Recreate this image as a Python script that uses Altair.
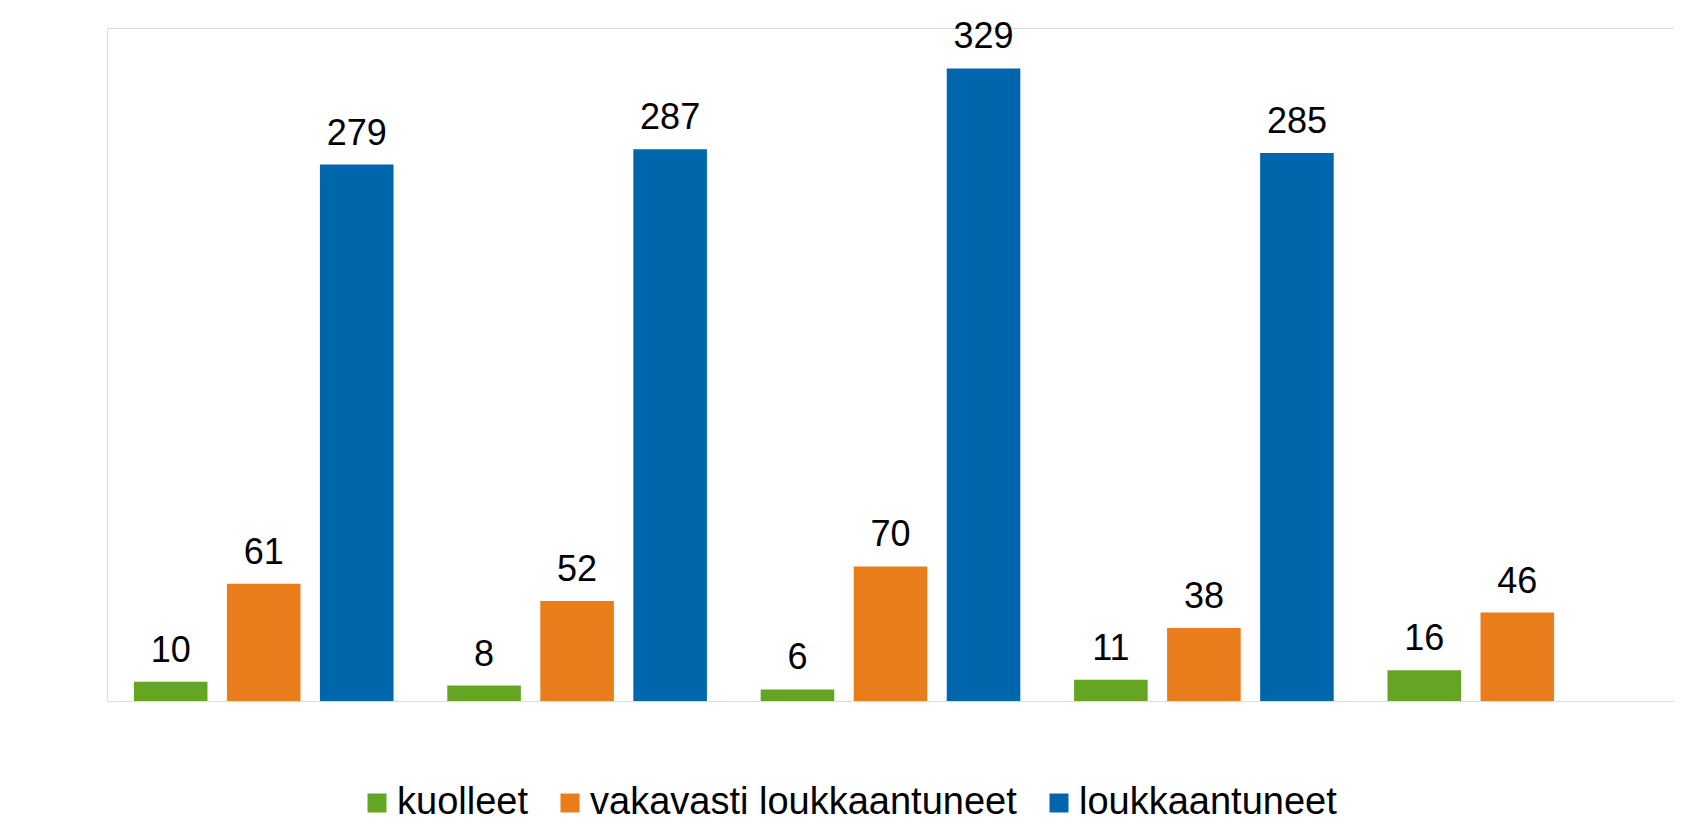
import altair as alt
import pandas as pd

years = ["2009", "2010", "2011", "2012", "2013"]
series = ["kuolleet", "vakavasti loukkaantuneet", "loukkaantuneet"]
kuolleet = [10, 8, 6, 11, 16]
vakavasti = [61, 52, 70, 38, 46]
loukkaantuneet = [279, 287, 329, 285, None]
colors = ["#64a623", "#ea7d1b", "#0066ac"]
y_ticks = [0, 50, 100, 150, 200, 250, 300, 350]

rows = []
for i, yr in enumerate(years):
    for s, vals in zip(series, [kuolleet, vakavasti, loukkaantuneet]):
        if vals[i] is not None:
            rows.append({"year": yr, "series": s, "value": vals[i]})
df = pd.DataFrame(rows)

FONT = "Liberation Sans"

x_scale = alt.Scale(domain=years, paddingInner=0, paddingOuter=0)
xoff_scale = alt.Scale(domain=series, paddingInner=0.209, paddingOuter=0.289)
y_scale = alt.Scale(domain=[0, 350], nice=False)

base = alt.Chart(df)

bars = base.mark_bar().encode(
    x=alt.X(
        "year:N",
        scale=x_scale,
        axis=alt.Axis(
            title=None, labelAngle=0, ticks=False, grid=False,
            domainColor="#a6a6a6", domainWidth=2, labelFontSize=35,
            labelPadding=28, labelColor="black", labelFont=FONT,
        ),
    ),
    xOffset=alt.XOffset("series:N", scale=xoff_scale),
    y=alt.Y(
        "value:Q",
        scale=y_scale,
        axis=alt.Axis(
            title=None, values=y_ticks, domain=False, ticks=False,
            gridColor="#d9d9d9", gridWidth=2, labelFontSize=35,
            labelPadding=33, labelColor="black", labelFont=FONT,
        ),
    ),
    color=alt.Color(
        "series:N",
        scale=alt.Scale(domain=series, range=colors),
        legend=alt.Legend(
            orient="none", legendX=251, legendY=756, direction="horizontal",
            title=None, symbolType="square", symbolSize=361,
            symbolStrokeWidth=0, symbolOpacity=1, labelFontSize=38,
            labelOffset=1, columnPadding=23, padding=0, labelColor="black",
            labelFont=FONT, labelLimit=0,
        ),
    ),
)

labels = base.mark_text(
    baseline="alphabetic", dy=-20, fontSize=36, font=FONT, color="black"
).encode(
    x=alt.X("year:N", scale=x_scale, axis=None),
    xOffset=alt.XOffset("series:N", scale=xoff_scale),
    y=alt.Y("value:Q", scale=y_scale, axis=None),
    text="value:Q",
)

chart = (
    alt.layer(bars, labels)
    .properties(
        width=1567,
        height=673,
        autosize=alt.AutoSizeParams(type="none"),
        padding={"left": 99, "top": 20, "right": 0, "bottom": 117},
    )
    .configure_view(stroke=None)
    .configure_axisY(domain=False)
    .configure(font=FONT)
)

chart.save("out.html", embed_options={"renderer": "svg", "actions": False})
